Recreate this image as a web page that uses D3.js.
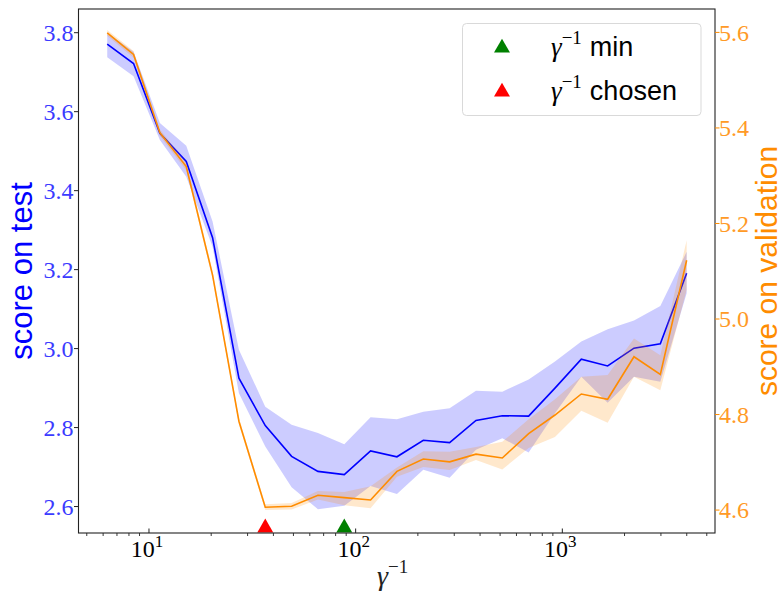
<!DOCTYPE html>
<html><head><meta charset="utf-8">
<script src="https://cdn.jsdelivr.net/npm/d3@7"></script>
<style>body{margin:0;background:#fff}svg{display:block}</style>
</head><body>
<svg id="chart" width="782" height="597"></svg>
<script>
// ---- data ----
const gammaInv = [6.28, 8.42, 11.29, 15.15, 20.31, 27.24, 36.53, 48.99, 65.70, 88.1, 118.1, 158.4, 212.5, 284.9, 382.1, 512.4, 687.1, 921.3, 1235.6, 1657, 2222, 2980, 3996];
const testMean = [3.771, 3.722, 3.545, 3.474, 3.281, 2.925, 2.805, 2.727, 2.689, 2.681, 2.741, 2.726, 2.768, 2.762, 2.818, 2.830, 2.829, 2.900, 2.973, 2.956, 3.001, 3.012, 3.191];
const testLow  = [3.738, 3.690, 3.528, 3.435, 3.258, 2.887, 2.752, 2.649, 2.593, 2.602, 2.652, 2.632, 2.693, 2.673, 2.744, 2.773, 2.737, 2.836, 2.929, 2.863, 2.929, 2.916, 3.140];
const testHigh = [3.800, 3.752, 3.571, 3.514, 3.322, 2.997, 2.853, 2.807, 2.786, 2.758, 2.826, 2.821, 2.840, 2.849, 2.893, 2.891, 2.922, 2.967, 3.018, 3.049, 3.071, 3.108, 3.245];
const valMean  = [5.599, 5.554, 5.390, 5.319, 5.092, 4.786, 4.606, 4.608, 4.631, 4.626, 4.621, 4.681, 4.707, 4.701, 4.717, 4.709, 4.760, 4.799, 4.843, 4.832, 4.921, 4.884, 5.123];
const valLow   = [5.593, 5.547, 5.383, 5.311, 5.084, 4.779, 4.600, 4.601, 4.622, 4.610, 4.604, 4.670, 4.690, 4.684, 4.705, 4.685, 4.730, 4.753, 4.808, 4.783, 4.879, 4.851, 5.061];
const valHigh  = [5.605, 5.561, 5.397, 5.327, 5.100, 4.793, 4.612, 4.615, 4.640, 4.638, 4.650, 4.689, 4.723, 4.722, 4.732, 4.743, 4.790, 4.832, 4.879, 4.883, 4.959, 4.924, 5.165];
const markerMin = 88.1, markerChosen = 36.53, markerLevel = 2.55;
const leftTicks = [2.6, 2.8, 3.0, 3.2, 3.4, 3.6, 3.8];
const rightTicks = [4.6, 4.8, 5.0, 5.2, 5.4, 5.6];
const xMajor = [10, 100, 1000];
const xMinor = [5,6,7,8,9,20,30,40,50,60,70,80,90,200,300,400,500,600,700,800,900,2000,3000,4000,5000];
const legendItems = [{label:"min", color:"green"}, {label:"chosen", color:"red"}];

// ---- layout ----
const L = 78.5, R = 715, T = 9, B = 533;
const svg = d3.select("#chart");
const x = d3.scaleLog().domain([4.56, 5480]).range([L, R]);
const yL = d3.scaleLinear().domain([2.533, 3.86]).range([B, T]);
const yR = d3.scaleLinear().domain([4.552, 5.649]).range([B, T]);
const serif = "Liberation Serif, Times New Roman, DejaVu Serif, serif";
const sans = "Liberation Sans, Arial, sans-serif";
const idx = d3.range(gammaInv.length);

svg.append("clipPath").attr("id","clip").append("rect").attr("x",L).attr("y",T).attr("width",R-L).attr("height",B-T);
const plot = svg.append("g").attr("clip-path","url(#clip)");

// test band + line (left axis)
plot.append("path").datum(idx)
  .attr("d", d3.area().x(i=>x(gammaInv[i])).y0(i=>yL(testLow[i])).y1(i=>yL(testHigh[i])))
  .attr("fill","blue").attr("fill-opacity",0.2);
plot.append("path").datum(idx)
  .attr("d", d3.line().x(i=>x(gammaInv[i])).y(i=>yL(testMean[i])))
  .attr("fill","none").attr("stroke","blue").attr("stroke-width",1.6);

// validation band + line (right axis)
plot.append("path").datum(idx)
  .attr("d", d3.area().x(i=>x(gammaInv[i])).y0(i=>yR(valLow[i])).y1(i=>yR(valHigh[i])))
  .attr("fill","#ff8c00").attr("fill-opacity",0.2);
plot.append("path").datum(idx)
  .attr("d", d3.line().x(i=>x(gammaInv[i])).y(i=>yR(valMean[i])))
  .attr("fill","none").attr("stroke","#ff8c00").attr("stroke-width",1.6);

// markers
const tri = d3.symbol().type(d3.symbolTriangle).size(110);
[[markerMin,"green"],[markerChosen,"red"]].forEach(([v,c])=>{
  svg.append("path").attr("d",tri()).attr("fill",c)
    .attr("transform",`translate(${x(v)},${yL(markerLevel)+1.5})`);
});

// spines
svg.append("rect").attr("x",L).attr("y",T).attr("width",R-L).attr("height",B-T)
  .attr("fill","none").attr("stroke","#222").attr("stroke-width",1.1);

// left ticks
const gl = svg.append("g");
leftTicks.forEach(t=>{
  const yy = yL(t);
  gl.append("line").attr("x1",L-4.5).attr("x2",L).attr("y1",yy).attr("y2",yy).attr("stroke","#222").attr("stroke-width",1);
  gl.append("text").attr("x",L-5).attr("y",yy).attr("dy","0.35em").attr("text-anchor","end")
    .style("font-family",serif).attr("font-size",24).attr("fill","#3b3bff").text(t.toFixed(1));
});
// right ticks
const gr = svg.append("g");
rightTicks.forEach(t=>{
  const yy = yR(t);
  gr.append("line").attr("x1",R).attr("x2",R+4.5).attr("y1",yy).attr("y2",yy).attr("stroke","#ff8c00").attr("stroke-width",1);
  gr.append("text").attr("x",R+4).attr("y",yy).attr("dy","0.35em").attr("text-anchor","start")
    .style("font-family",serif).attr("font-size",24).attr("fill","#ff9a26").text(t.toFixed(1));
});
// x ticks
const gx = svg.append("g");
xMinor.filter(v=>x(v)>L && x(v)<R).forEach(v=>{
  gx.append("line").attr("x1",x(v)).attr("x2",x(v)).attr("y1",B).attr("y2",B+3).attr("stroke","#222").attr("stroke-width",0.9);
});
xMajor.forEach((v,k)=>{
  gx.append("line").attr("x1",x(v)).attr("x2",x(v)).attr("y1",B-4.5).attr("y2",B).attr("stroke","#222").attr("stroke-width",1);
  const t = gx.append("text").attr("x",x(v)-2).attr("y",557).attr("text-anchor","middle")
    .style("font-family",serif).attr("font-size",24).attr("fill","#000");
  t.append("tspan").text("10");
  t.append("tspan").attr("dy",-10).attr("font-size",17).text(String(Math.round(Math.log10(v))));
});

// axis labels
svg.append("text").attr("transform","translate(32,271) rotate(-90)").attr("text-anchor","middle")
  .style("font-family",sans).attr("font-size",31).attr("fill","blue").text("score on test");
svg.append("text").attr("transform","translate(777,271) rotate(-90)").attr("text-anchor","middle")
  .style("font-family",sans).attr("font-size",30).attr("fill","#ff8c00").text("score on validation");
const xl = svg.append("text").attr("x",377).attr("y",585).style("font-family",serif).attr("font-size",28).attr("fill","#222");
xl.append("tspan").attr("font-style","italic").text("γ");
xl.append("tspan").attr("dy",-12).attr("font-size",19).text("−1");

// legend
const lg = svg.append("g");
lg.append("rect").attr("x",462.5).attr("y",23.5).attr("width",238.5).attr("height",92).attr("rx",4)
  .attr("fill","#fff").attr("fill-opacity",0.8).attr("stroke","#d9d9d9").attr("stroke-width",1);
legendItems.forEach((d,i)=>{
  const yy = 47 + i*44;
  lg.append("path").attr("d",tri()).attr("fill",d.color).attr("transform",`translate(502,${yy+1})`);
  const t = lg.append("text").attr("x",551).attr("y",yy+9).attr("font-size",27).attr("fill","#000");
  t.append("tspan").style("font-family",serif).attr("font-style","italic").text("γ");
  t.append("tspan").style("font-family",serif).attr("dy",-12).attr("font-size",19).text("−1");
  t.append("tspan").style("font-family",sans).attr("dy",12).attr("dx",8).text(d.label);
});
</script>
</body></html>
